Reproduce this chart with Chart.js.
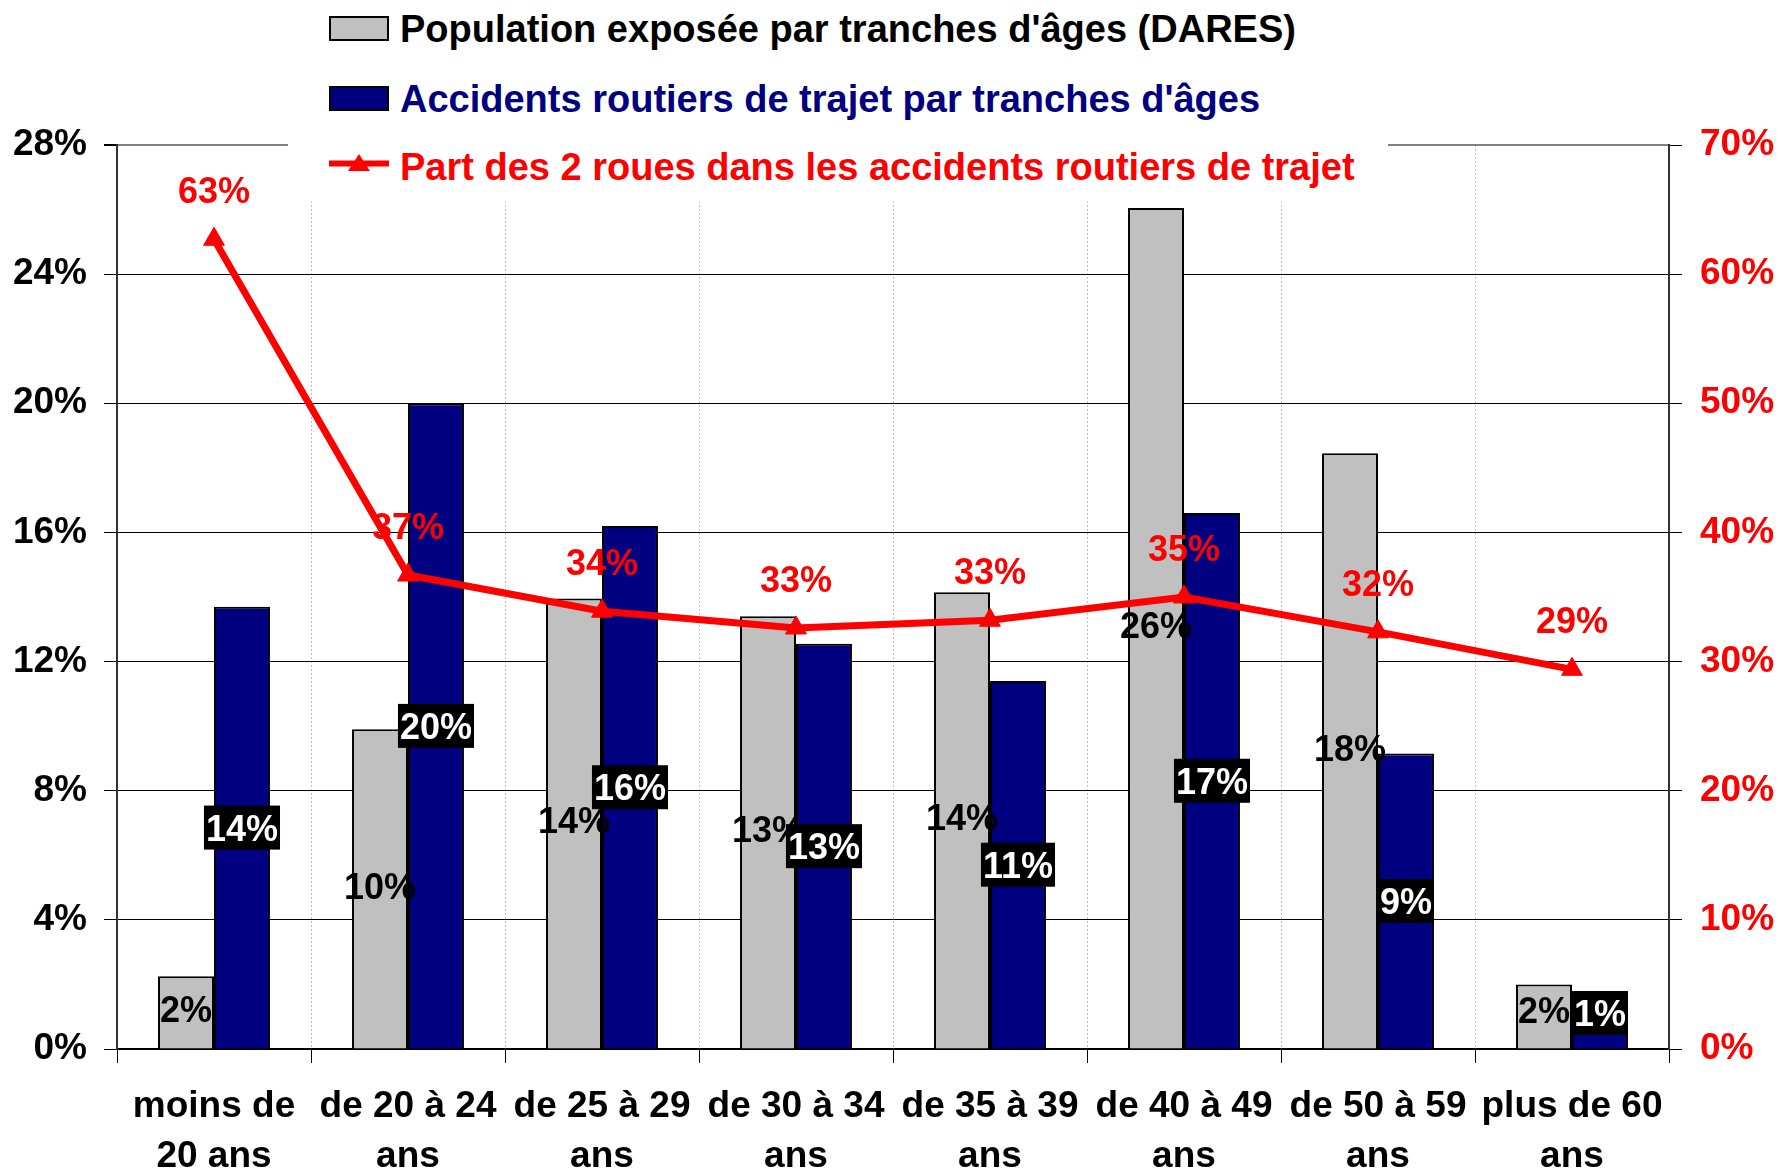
<!DOCTYPE html>
<html lang="fr">
<head>
<meta charset="utf-8">
<title>Accidents routiers de trajet par tranches d'âges</title>
<script src="https://cdn.jsdelivr.net/npm/chart.js@4.4.1/dist/chart.umd.min.js"></script>
<style>
  html, body { margin: 0; padding: 0; background: #fff; }
  #wrap { position: relative; width: 1779px; height: 1169px; }
  #legend {
    position: absolute; left: 288px; top: 0; width: 1100px; height: 202px;
    background: #fff; font: bold 38px 'Liberation Sans', Arial, sans-serif;
  }
  .row { position: absolute; left: 41px; height: 50px; display: flex; align-items: center; white-space: nowrap; }
  .swatch { box-sizing: border-box; width: 60px; height: 25px; border: 2px solid #000; margin-right: 11px; position: relative; top: -1px; }
  .lineIcon { width: 60px; height: 25px; margin-right: 11px; position: relative; top: -4px; }
</style>
</head>
<body>
<div id="wrap">
  <canvas id="chart"></canvas>
  <div id="legend"></div>
</div>
<script>
const categories = [
  ['moins de', '20 ans'],
  ['de 20 à 24', 'ans'],
  ['de 25 à 29', 'ans'],
  ['de 30 à 34', 'ans'],
  ['de 35 à 39', 'ans'],
  ['de 40 à 49', 'ans'],
  ['de 50 à 59', 'ans'],
  ['plus de 60', 'ans'],
];

// % of exposed population (DARES)
const populationExposee = [2.25, 9.9, 13.95, 13.4, 14.15, 26.05, 18.45, 2.0];
// % of commuting road accidents
const accidentsTrajet = [13.7, 20.0, 16.2, 12.55, 11.4, 16.6, 9.15, 0.5];
// share of two-wheelers in those accidents (right axis)
const part2Roues = [62.7, 36.7, 33.9, 32.6, 33.2, 35.0, 32.3, 29.4];

const leftAxisMax = 28;
const leftAxisStep = 4;
const rightAxisMax = 70;
const rightAxisStep = 10;

const seriesLabels = [
  "Population exposée par tranches d'âges (DARES)",
  "Accidents routiers de trajet par tranches d'âges",
  'Part des 2 roues dans les accidents routiers de trajet',
];

const FONT = "'Liberation Sans', Arial, sans-serif";
const GREY = '#c0c0c0';
const NAVY = '#000080';
const RED = '#ff0000';

Chart.defaults.font.family = FONT;
Chart.defaults.font.weight = 'bold';

const pct = (v) => Math.round(v) + '%';

// value labels drawn on top of the datasets
const valueLabels = {
  id: 'valueLabels',
  afterDatasetsDraw(chart) {
    const { ctx, chartArea } = chart;
    const maxY = chartArea.bottom - 36;
    ctx.save();
    ctx.font = 'bold 36px ' + FONT;
    ctx.textAlign = 'center';
    ctx.textBaseline = 'middle';

    chart.getDatasetMeta(0).data.forEach((bar, i) => {
      const y = Math.min((bar.y + bar.base) / 2, maxY);
      ctx.fillStyle = '#000';
      ctx.fillText(pct(populationExposee[i]), bar.x, y);
    });

    chart.getDatasetMeta(1).data.forEach((bar, i) => {
      const y = Math.min((bar.y + bar.base) / 2, maxY);
      const text = pct(accidentsTrajet[i]);
      const w = ctx.measureText(text).width + 4;
      ctx.fillStyle = '#000';
      ctx.fillRect(bar.x - w / 2, y - 22, w, 44);
      ctx.fillStyle = '#fff';
      ctx.fillText(text, bar.x, y + 3);
    });

    chart.getDatasetMeta(2).data.forEach((pt, i) => {
      ctx.fillStyle = RED;
      ctx.fillText(pct(part2Roues[i]), pt.x, pt.y - 46);
    });
    ctx.restore();
  },
};

const chart = new Chart(document.getElementById('chart').getContext('2d'), {
  type: 'bar',
  data: {
    labels: categories,
    datasets: [
      {
        label: seriesLabels[0],
        data: populationExposee,
        backgroundColor: GREY,
        borderColor: '#000',
        borderWidth: 2,
        categoryPercentage: 0.577,
        barPercentage: 1,
        yAxisID: 'y',
        order: 2,
      },
      {
        label: seriesLabels[1],
        data: accidentsTrajet,
        backgroundColor: NAVY,
        borderColor: '#000',
        borderWidth: 2,
        categoryPercentage: 0.577,
        barPercentage: 1,
        yAxisID: 'y',
        order: 2,
      },
      {
        type: 'line',
        label: seriesLabels[2],
        data: part2Roues,
        borderColor: RED,
        backgroundColor: RED,
        borderWidth: 7,
        pointStyle: 'triangle',
        pointRadius: 12,
        pointBorderWidth: 1,
        tension: 0,
        fill: false,
        yAxisID: 'y1',
        order: 1,
      },
    ],
  },
  options: {
    responsive: true,
    maintainAspectRatio: false,
    animation: false,
    layout: { padding: { top: 145, left: 0, right: 0, bottom: 0 } },
    plugins: {
      legend: { display: false },
      tooltip: { enabled: false },
    },
    scales: {
      x: {
        grid: {
          color: GREY,
          lineWidth: 1,
          offset: true,
          tickLength: 14,
          tickColor: '#000',
        },
        border: { color: '#000', width: 2, dash: [2, 2] },
        ticks: {
          color: '#000',
          font: { size: 37, weight: 'bold', lineHeight: 1.34 },
          padding: 19,
          maxRotation: 0,
          autoSkip: false,
        },
        afterFit: (scale) => { scale.height = 120; },
      },
      y: {
        position: 'left',
        min: 0,
        max: leftAxisMax,
        ticks: {
          stepSize: leftAxisStep,
          color: '#000',
          padding: 17,
          font: { size: 37, weight: 'bold' },
          callback: (v) => v + '%',
        },
        grid: {
          color: (c) => (c.tick && c.tick.value === leftAxisMax ? '#808080' : '#000'),
          lineWidth: (c) => (c.tick && c.tick.value === leftAxisMax ? 2 : 1),
          tickLength: 13,
          tickColor: '#000',
        },
        border: { color: '#333', width: 2 },
        afterFit: (scale) => { scale.width = 117; },
      },
      y1: {
        position: 'right',
        min: 0,
        max: rightAxisMax,
        ticks: {
          stepSize: rightAxisStep,
          color: RED,
          padding: 18,
          font: { size: 37, weight: 'bold' },
          callback: (v) => v + '%',
        },
        grid: {
          drawOnChartArea: false,
          tickLength: 13,
          tickColor: '#000',
        },
        border: { color: '#333', width: 2 },
        afterFit: (scale) => { scale.width = 110; },
      },
    },
  },
  plugins: [valueLabels],
});

// legend built from the datasets, stacked on the left like the original
const legendEl = document.getElementById('legend');
const legendTextColors = ['#000', NAVY, RED];
const legendRowCenters = [29, 99, 167];
chart.data.datasets.forEach((ds, i) => {
  const row = document.createElement('div');
  row.className = 'row';
  row.style.top = (legendRowCenters[i] - 25) + 'px';
  let icon;
  if (ds.type === 'line') {
    icon = document.createElementNS('http://www.w3.org/2000/svg', 'svg');
    icon.setAttribute('class', 'lineIcon');
    icon.setAttribute('viewBox', '0 0 60 25');
    icon.innerHTML =
      `<line x1="0" y1="12.5" x2="60" y2="12.5" stroke="${ds.borderColor}" stroke-width="6"/>` +
      `<polygon points="30,3 41,20 19,20" fill="${ds.borderColor}"/>`;
  } else {
    icon = document.createElement('div');
    icon.className = 'swatch';
    icon.style.background = ds.backgroundColor;
  }
  const text = document.createElement('span');
  text.textContent = ds.label;
  text.style.color = legendTextColors[i];
  row.appendChild(icon);
  row.appendChild(text);
  legendEl.appendChild(row);
});
</script>
</body>
</html>
